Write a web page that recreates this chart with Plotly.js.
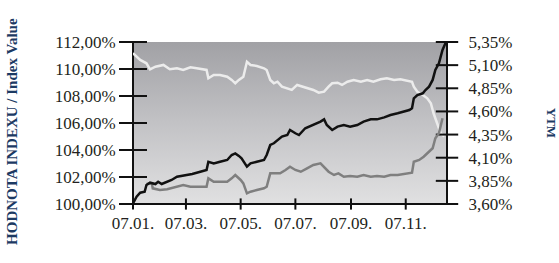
<!DOCTYPE html>
<html>
<head>
<meta charset="utf-8">
<script src="https://cdn.plot.ly/plotly-3.0.1.min.js"></script>
<style>
  html, body { margin: 0; padding: 0; background: #ffffff; }
  #wrap { position: relative; width: 559px; height: 263px; }
  #bg { position: absolute; left: 132px; top: 42px; width: 312px; height: 161px;
        border-left: 2px solid #111; border-right: 2px solid #111; border-bottom: 2px solid #111;
        background: linear-gradient(to bottom, #a1a1a5 0%, #c2c2c5 50%, #e0e0e1 100%); }
  .chart { position: absolute; left: 0; top: 0; width: 559px; height: 263px; }
</style>
</head>
<body>
<div id="wrap"><div id="bg"></div><div id="chartYtm" class="chart"></div><div id="chartIndex" class="chart"></div></div>
<script>
// Index value (left axis, %)
const indexDates = ['2007-01-01','2007-01-05','2007-01-09','2007-01-14','2007-01-16','2007-01-20','2007-01-26','2007-01-29','2007-02-02','2007-02-08','2007-02-13','2007-02-19','2007-03-02','2007-03-08','2007-03-17','2007-03-24','2007-03-26','2007-04-01','2007-04-08','2007-04-16','2007-04-21','2007-04-25','2007-04-29','2007-05-02','2007-05-08','2007-05-12','2007-05-19','2007-05-27','2007-05-30','2007-06-03','2007-06-07','2007-06-11','2007-06-16','2007-06-22','2007-06-25','2007-07-01','2007-07-05','2007-07-12','2007-07-21','2007-07-29','2007-08-02','2007-08-05','2007-08-11','2007-08-17','2007-08-24','2007-08-31','2007-09-08','2007-09-15','2007-09-23','2007-09-30','2007-10-08','2007-10-15','2007-10-23','2007-10-30','2007-11-05','2007-11-08','2007-11-10','2007-11-14','2007-11-20','2007-11-23','2007-11-27','2007-12-01','2007-12-04','2007-12-08','2007-12-12','2007-12-16'];
const indexValues = [100.05,100.54,100.84,100.91,101.41,101.58,101.48,101.65,101.48,101.65,101.78,102.02,102.15,102.22,102.39,102.52,103.13,103.01,103.13,103.26,103.63,103.75,103.56,103.38,102.77,103.01,103.13,103.26,103.63,104.37,104.50,104.74,104.99,105.11,105.48,105.24,105.11,105.61,105.85,106.10,106.27,105.85,105.48,105.73,105.85,105.73,105.85,106.10,106.27,106.27,106.42,106.59,106.72,106.84,106.96,107.09,107.83,108.07,108.20,108.44,108.69,109.19,109.93,110.42,111.41,112.02];

// Second index series (left axis, %)
const index2Dates = ['2007-01-16','2007-01-22','2007-01-23','2007-01-31','2007-02-08','2007-02-19','2007-02-26','2007-03-06','2007-03-17','2007-03-24','2007-03-26','2007-04-01','2007-04-08','2007-04-16','2007-04-21','2007-04-25','2007-05-01','2007-05-04','2007-05-08','2007-05-12','2007-05-19','2007-05-27','2007-05-30','2007-06-03','2007-06-11','2007-06-14','2007-06-20','2007-06-25','2007-07-01','2007-07-07','2007-07-14','2007-07-21','2007-07-29','2007-08-02','2007-08-07','2007-08-13','2007-08-18','2007-08-24','2007-08-31','2007-09-08','2007-09-15','2007-09-23','2007-09-30','2007-10-08','2007-10-15','2007-10-23','2007-11-03','2007-11-08','2007-11-10','2007-11-16','2007-11-21','2007-11-27','2007-12-01','2007-12-04','2007-12-08','2007-12-12'];
const index2Values = [101.48,101.53,101.16,101.04,101.09,101.28,101.41,101.28,101.28,101.28,101.90,101.65,101.65,101.65,101.90,102.15,101.78,101.53,100.79,100.91,101.04,101.16,101.28,102.27,102.27,102.27,102.52,102.76,102.52,102.39,102.64,102.89,103.01,102.76,102.39,102.15,102.27,102.02,102.07,102.02,102.15,102.02,102.07,102.02,102.15,102.15,102.27,102.32,103.13,103.26,103.50,103.87,104.13,104.87,105.24,106.35];

// YTM (right axis, %)
const ytmDates = ['2007-01-01','2007-01-05','2007-01-09','2007-01-16','2007-01-20','2007-01-26','2007-02-04','2007-02-11','2007-02-19','2007-02-26','2007-03-06','2007-03-13','2007-03-24','2007-03-26','2007-04-01','2007-04-08','2007-04-16','2007-04-21','2007-04-25','2007-04-29','2007-05-04','2007-05-08','2007-05-12','2007-05-19','2007-05-27','2007-05-30','2007-06-03','2007-06-07','2007-06-11','2007-06-16','2007-06-22','2007-06-27','2007-07-03','2007-07-10','2007-07-21','2007-07-27','2007-08-02','2007-08-07','2007-08-11','2007-08-17','2007-08-22','2007-08-28','2007-09-04','2007-09-12','2007-09-19','2007-09-26','2007-10-04','2007-10-11','2007-10-19','2007-10-26','2007-11-03','2007-11-08','2007-11-10','2007-11-14','2007-11-20','2007-11-25','2007-11-29','2007-12-02','2007-12-06','2007-12-10','2007-12-14'];
const ytmValues = [5.228,5.191,5.156,5.120,5.055,5.083,5.102,5.055,5.066,5.048,5.077,5.066,5.048,4.958,4.994,4.994,4.975,4.940,4.904,4.940,4.975,5.137,5.102,5.091,5.066,5.048,4.940,4.904,4.921,4.867,4.850,4.832,4.886,4.864,4.832,4.802,4.813,4.867,4.904,4.910,4.886,4.921,4.940,4.921,4.940,4.921,4.947,4.958,4.940,4.947,4.932,4.921,4.867,4.813,4.777,4.742,4.688,4.580,4.472,4.364,4.328];

// Axis ticks
const leftTicks = [100,102,104,106,108,110,112];
const leftTickText = ['100,00%','102,00%','104,00%','106,00%','108,00%','110,00%','112,00%'];
const rightTicks = [3.60,3.85,4.10,4.35,4.60,4.85,5.10,5.35];
const rightTickText = ['3,60%','3,85%','4,10%','4,35%','4,60%','4,85%','5,10%','5,35%'];
const monthTicks = ['2007-01-01','2007-03-01','2007-05-01','2007-07-01','2007-09-01','2007-11-01'];

const tickFont = {family: 'Liberation Serif, Times New Roman, serif', size: 17, color: '#231f20'};
const titleFont = {family: 'Liberation Serif, Times New Roman, serif', color: '#1c3a63', weight: 'bold'};
const xRange = ['2007-01-01','2007-12-17'];
const leftRange = [100, 112];
const rightRange = [3.60, 5.35];
const margin = {l: 133, r: 112, t: 42, b: 59, pad: 0};
const config = {staticPlot: true, displayModeBar: false};
const clear = 'rgba(0,0,0,0)';

// crossing tick marks, placed through the axes' own scales at the tick values
function tickMarks(xs, ys, symbol, size) {
  return {x: xs, y: ys, type: 'scatter', mode: 'markers', cliponaxis: false, hoverinfo: 'skip', showlegend: false,
          marker: {symbol: symbol, size: size, color: '#111', line: {color: '#111', width: 2}}};
}

// Layer 1: YTM line with the right-hand axis
Plotly.newPlot('chartYtm', [
  {x: ytmDates, y: ytmValues, type: 'scatter', mode: 'lines', line: {color: '#ececec', width: 2.5}, name: 'YTM'},
  tickMarks(rightTicks.map(() => xRange[1]), rightTicks, 'line-ew-open', 16)
], {
  width: 559, height: 263, margin: margin, showlegend: false,
  paper_bgcolor: clear, plot_bgcolor: clear,
  xaxis: {type: 'date', range: xRange, visible: false},
  yaxis: {
    range: rightRange, tickvals: rightTicks, ticktext: rightTickText, side: 'right',
    anchor: 'free', position: 1 - 3 / 314,
    ticks: 'outside', ticklen: 13, tickwidth: 2, tickcolor: clear,
    showline: false, showgrid: false, zeroline: false, tickfont: tickFont, ticklabelstandoff: 7
  }
}, config);

// Layer 2: index lines with the left axis and the date axis
Plotly.newPlot('chartIndex', [
  {x: index2Dates, y: index2Values, type: 'scatter', mode: 'lines', line: {color: '#7f7f7f', width: 2.5}, name: 'Index 2'},
  {x: indexDates, y: indexValues, type: 'scatter', mode: 'lines', line: {color: '#111111', width: 2.5}, name: 'Index'},
  tickMarks(leftTicks.map(() => xRange[0]), leftTicks, 'line-ew-open', 20),
  tickMarks(monthTicks, monthTicks.map(() => leftRange[0]), 'line-ns-open', 8)
], {
  width: 559, height: 263, margin: margin, showlegend: false,
  paper_bgcolor: clear, plot_bgcolor: clear,
  xaxis: {
    type: 'date', range: xRange, tickvals: monthTicks, tickformat: '%y.%m.',
    anchor: 'free', position: 4 / 162,
    ticks: 'outside', ticklen: 8, tickwidth: 2, tickcolor: clear,
    showline: false, showgrid: false, zeroline: false, tickfont: tickFont
  },
  yaxis: {
    range: leftRange, tickvals: leftTicks, ticktext: leftTickText,
    anchor: 'free', position: 10 / 314,
    ticks: 'outside', ticklen: 20, tickwidth: 2, tickcolor: clear,
    showline: false, showgrid: false, zeroline: false, tickfont: tickFont, ticklabelstandoff: 4
  },
  annotations: [
    {text: 'HODNOTA INDEXU / Index Value', xref: 'paper', yref: 'paper', x: -0.3857, y: 0.4506,
     xanchor: 'center', yanchor: 'middle', textangle: -90, showarrow: false,
     font: Object.assign({size: 15}, titleFont)},
    {text: 'YTM', xref: 'paper', yref: 'paper', x: 1.335, y: 0.50,
     xanchor: 'center', yanchor: 'middle', textangle: 90, showarrow: false,
     font: Object.assign({size: 13}, titleFont)}
  ]
}, config);
</script>
</body>
</html>
